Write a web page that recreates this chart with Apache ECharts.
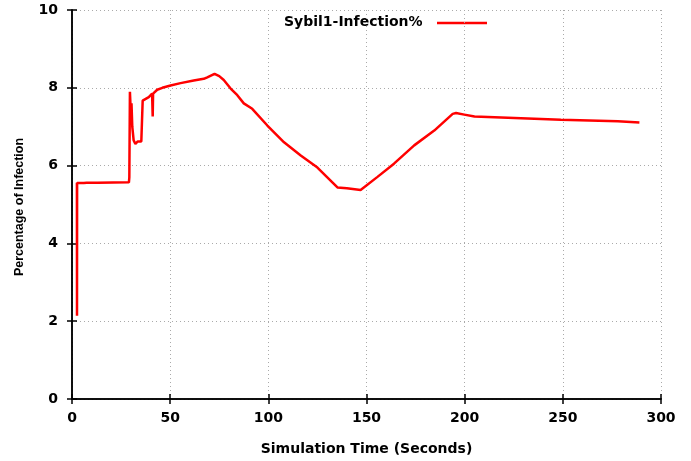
<!DOCTYPE html>
<html><head><meta charset="utf-8">
<script src="https://cdn.jsdelivr.net/npm/echarts@6/dist/echarts.min.js"></script>
<style>html,body{margin:0;padding:0;background:#fff}#c{width:691px;height:461px}</style>
</head><body><div id="c"></div>
<script>
const seriesName = 'Sybil1-Infection%';
const xTicks = [0, 50, 100, 150, 200, 250, 300];
const yTicks = [0, 2, 4, 6, 8, 10];
const timeSec = [2.5, 2.55, 2.6, 6.0, 6.8, 7.5, 11.5, 12.2, 13.0, 29.0, 29.2, 29.5, 30.0, 30.3, 30.7, 31.4, 32.3, 33.5, 35.3, 35.5, 36.0, 39.1, 40.8, 41.0, 41.1, 41.3, 43.4, 46.0, 50.2, 55.3, 62.0, 67.1, 68.9, 72.6, 75.0, 77.3, 80.8, 84.2, 87.5, 91.8, 99.5, 108.0, 116.5, 125.0, 135.2, 140.0, 147.0, 155.6, 164.0, 174.3, 184.5, 193.9, 195.6, 199.8, 205.0, 222.0, 249.0, 278.0, 289.0];
const infection = [5.56, 2.14, 5.55, 5.55, 5.6, 5.56, 5.56, 5.6, 5.56, 5.57, 5.7, 7.9, 7.3, 7.6, 7.0, 6.65, 6.56, 6.62, 6.62, 6.65, 7.67, 7.76, 7.85, 7.85, 7.26, 7.85, 7.95, 8.0, 8.06, 8.12, 8.19, 8.23, 8.27, 8.36, 8.3, 8.2, 7.98, 7.81, 7.6, 7.46, 7.03, 6.6, 6.26, 5.95, 5.44, 5.42, 5.37, 5.71, 6.05, 6.52, 6.9, 7.33, 7.35, 7.31, 7.26, 7.23, 7.18, 7.14, 7.11];

const data = timeSec.map((t, i) => [t, infection[i]]);
const chart = echarts.init(document.getElementById('c'), null, {renderer: 'canvas'});
const labelFont = {fontFamily: 'DejaVu Sans', fontWeight: 'bold', fontSize: 14, color: '#000'};
const grid = {left: 72, right: 30, top: 10, bottom: 62};
chart.setOption({
  animation: false,
  backgroundColor: '#fff',
  grid: grid,
  graphic: [
    {type: 'text', left: 284, top: 15, style: {text: seriesName, font: 'bold 14px "DejaVu Sans"', fill: '#000'}},
    {type: 'line', shape: {x1: 437, y1: 23, x2: 487, y2: 23}, style: {stroke: '#ff0000', lineWidth: 2.5}},
    {type: 'text', x: 20, y: 207, rotation: Math.PI / 2, style: {text: 'Percentage of Infection', font: 'bold 12.5px "Liberation Sans Narrow", "Liberation Sans"', fill: '#000', align: 'center', verticalAlign: 'middle'}}
  ],
  xAxis: [{
    type: 'value', min: xTicks[0], max: xTicks[xTicks.length - 1], interval: 50,
    name: 'Simulation Time (Seconds)', nameLocation: 'middle', nameGap: 43,
    nameTextStyle: {fontFamily: 'DejaVu Sans', fontWeight: 'bold', fontSize: 14, color: '#000'},
    axisLine: {lineStyle: {color: '#000', width: 1.5}},
    axisTick: {inside: true, length: 5, lineStyle: {color: '#000', width: 1.5}},
    axisLabel: Object.assign({margin: 12}, labelFont),
    splitLine: {show: true, lineStyle: {color: '#aaa', type: [1, 3], width: 1}}
  }, {
    type: 'value', position: 'top', min: xTicks[0], max: xTicks[xTicks.length - 1], interval: 50,
    axisLine: {show: true, lineStyle: {color: '#000', width: 1.5}},
    axisTick: {show: true, inside: true, length: 5, lineStyle: {color: '#000', width: 1.5}},
    axisLabel: {show: false}, splitLine: {show: false}
  }],
  yAxis: [{
    type: 'value', min: yTicks[0], max: yTicks[yTicks.length - 1], interval: 2,
    axisLine: {show: true, lineStyle: {color: '#000', width: 1.5}},
    axisTick: {show: true, inside: true, length: 5, lineStyle: {color: '#000', width: 1.5}},
    axisLabel: Object.assign({margin: 14}, labelFont),
    splitLine: {show: true, lineStyle: {color: '#aaa', type: [1, 3], width: 1}}
  }, {
    type: 'value', position: 'right', min: yTicks[0], max: yTicks[yTicks.length - 1], interval: 2,
    axisLine: {show: true, lineStyle: {color: '#000', width: 1.5}},
    axisTick: {show: true, inside: true, length: 5, lineStyle: {color: '#000', width: 1.5}},
    axisLabel: {show: false}, splitLine: {show: false}
  }],
  series: [{
    name: seriesName, type: 'line', data: data, showSymbol: false, symbol: 'none',
    lineStyle: {color: '#ff0000', width: 2.5}, itemStyle: {color: '#ff0000'}
  }]
});
</script></body></html>
